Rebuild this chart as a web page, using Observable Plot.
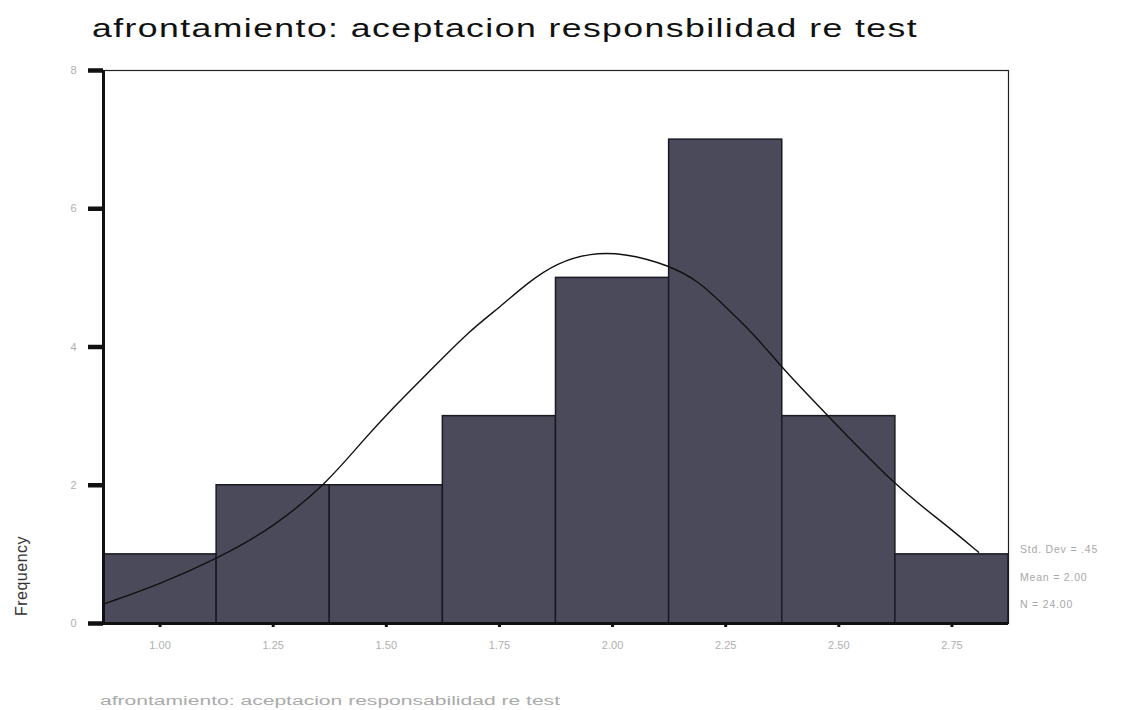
<!DOCTYPE html>
<html>
<head>
<meta charset="utf-8">
<script src="https://cdn.jsdelivr.net/npm/d3@7"></script>
<script src="https://cdn.jsdelivr.net/npm/@observablehq/plot@0.6"></script>
<style>
  html, body { margin: 0; padding: 0; background: #fff; }
  #wrap { position: relative; width: 1133px; height: 710px; overflow: hidden; font-family: "Liberation Sans", Arial, sans-serif; }
  #title { position: absolute; left: 92px; top: 14px; font-size: 25px; color: #111; white-space: nowrap; letter-spacing: 1px; transform-origin: 0 0; }
  #chart { position: absolute; left: 0; top: 60px; }
  .stat { position: absolute; left: 1020px; font-size: 10.5px; color: #a8a8a8; white-space: nowrap; letter-spacing: 0.8px; }
  #ylab { position: absolute; left: 22px; top: 576px; transform: translate(-50%, -50%) rotate(-90deg); font-size: 16px; color: #333; white-space: nowrap; letter-spacing: 0.5px; }
  #xlab { position: absolute; left: 100px; top: 694px; font-size: 12px; color: #aaa; white-space: nowrap; transform-origin: 0 0; }
</style>
</head>
<body>
<div id="wrap">
  <div id="title"></div>
  <div id="chart"></div>
  <div id="ylab"></div>
  <div id="xlab"></div>
</div>
<script>
// ---- data ----
const titleText = "afrontamiento: aceptacion responsbilidad re test";
const xLabelText = "afrontamiento: aceptacion responsabilidad re test";
const yLabelText = "Frequency";
const binCenters = [1.00, 1.25, 1.50, 1.75, 2.00, 2.25, 2.50, 2.75];
const binWidth = 0.25;
const counts = [1, 2, 2, 3, 5, 7, 3, 1];
const xTickLabels = ["1.00", "1.25", "1.50", "1.75", "2.00", "2.25", "2.50", "2.75"];
const yTicks = [0, 2, 4, 6, 8];
const statLines = ["Std. Dev = .45", "Mean = 2.00", "N = 24.00"];
// normal curve, points
const curveX = [0.879, 1.0, 1.127, 1.251, 1.37, 1.443, 1.516, 1.591, 1.686, 1.752, 1.812, 1.878, 1.951, 2.024, 2.124, 2.195, 2.238, 2.311, 2.378, 2.475, 2.63, 2.725, 2.809];
const curveY = [0.29, 0.57, 0.94, 1.39, 2.04, 2.61, 3.13, 3.62, 4.25, 4.58, 4.93, 5.22, 5.36, 5.36, 5.19, 4.93, 4.65, 4.20, 3.67, 3.01, 1.96, 1.49, 1.03];

const bars = binCenters.map((c, i) => ({c, n: counts[i], lo: c - binWidth / 2, hi: c + binWidth / 2}));
const curve = curveX.map((x, i) => ({x, y: curveY[i]}));
const xDomain = [binCenters[0] - binWidth / 2, binCenters[binCenters.length - 1] + binWidth / 2];

const wrap = document.getElementById("wrap");
function fitWidth(el, text, w) {
  el.textContent = text;
  const actual = el.getBoundingClientRect().width;
  if (actual > 0) el.style.transform = `scaleX(${w / actual})`;
}
fitWidth(document.getElementById("title"), titleText, 826);
fitWidth(document.getElementById("xlab"), xLabelText, 460);
document.getElementById("ylab").textContent = yLabelText;

const statTops = [543, 571, 598];
statLines.forEach((s, i) => {
  const d = document.createElement("div");
  d.className = "stat";
  d.style.top = statTops[i] + "px";
  d.textContent = s;
  wrap.appendChild(d);
});

const chart = Plot.plot({
  width: 1133,
  height: 650,
  marginTop: 10,
  marginBottom: 87,
  marginLeft: 103,
  marginRight: 125,
  style: {background: "transparent", fontFamily: "Liberation Sans, Arial, sans-serif"},
  x: {domain: xDomain},
  y: {domain: [0, 8]},
  marks: [
    Plot.frame({stroke: "#222", strokeWidth: 1.2}),
    Plot.rectY(bars, {x1: "lo", x2: "hi", y: "n", fill: "#4a4a5a", stroke: "#1a1a22", strokeWidth: 1.5, inset: 0}),
    Plot.line(curve, {x: "x", y: "y", stroke: "#111", strokeWidth: 1.4, curve: "basis"}),
    Plot.ruleX([xDomain[0]], {stroke: "#111", strokeWidth: 3}),
    Plot.ruleY([0], {stroke: "#111", strokeWidth: 3}),
    Plot.axisY({ticks: yTicks, tickSize: 15, tickPadding: 12, strokeWidth: 4.5, stroke: "#111", color: "#b0b0b0", fontSize: 11, label: null}),
    Plot.axisX({ticks: binCenters, tickFormat: (d, i) => xTickLabels[i], tickSize: 4, tickPadding: 14, strokeWidth: 3, stroke: "#111", color: "#b0b0b0", fontSize: 11, label: null, style: {letterSpacing: "1.5px"}})
  ]
});
document.getElementById("chart").appendChild(chart);
</script>
</body>
</html>
